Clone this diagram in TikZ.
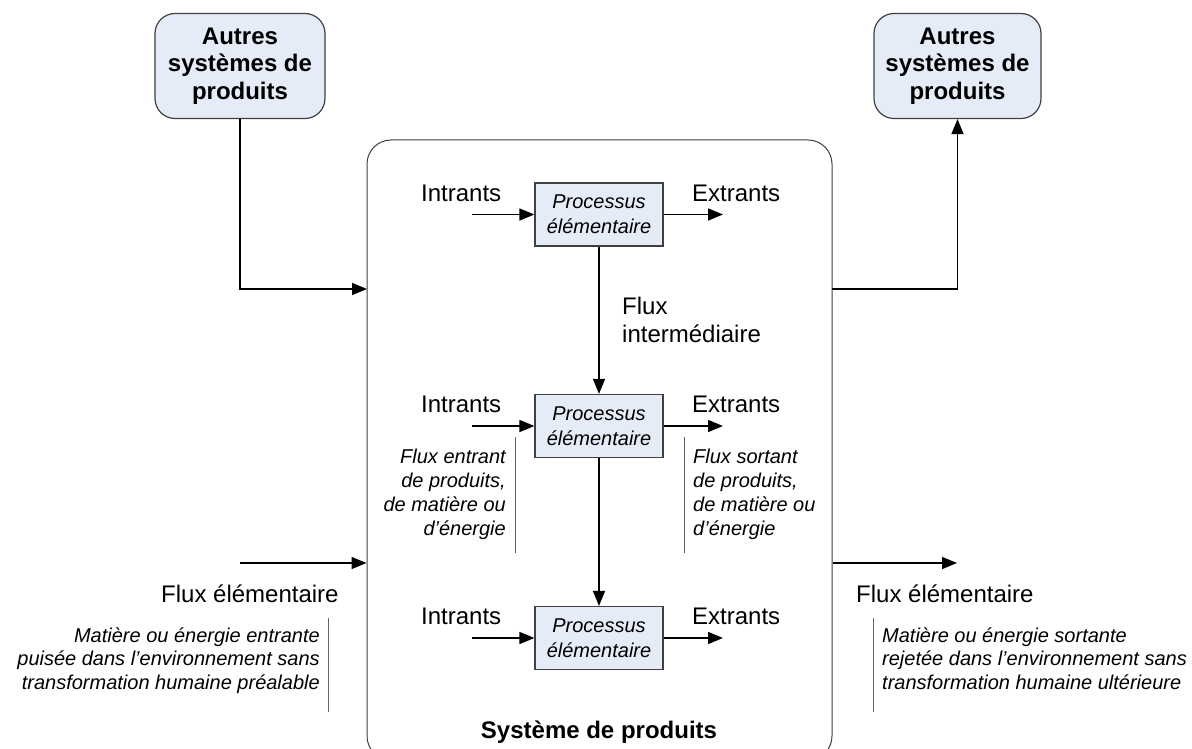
\documentclass[tikz,border=0pt]{standalone}
\usepackage{fontspec}
\setmainfont{Liberation Sans}
\usetikzlibrary{arrows.meta}
\definecolor{boxblue}{RGB}{230,236,247}
\definecolor{edgegray}{RGB}{64,64,64}
\definecolor{annotgray}{RGB}{100,100,100}
\tikzset{
  arr/.style={draw=black, line width=1.5pt, -{Triangle[length=15pt,width=12pt]}},
  autresbox/.style={draw=edgegray, fill=boxblue, line width=1.2pt, rounded corners=20pt,
    minimum width=170pt, minimum height=105pt, inner sep=0pt, align=center,
    font=\fontsize{24}{27.6}\selectfont\bfseries},
  procbox/.style={draw=edgegray, fill=boxblue, line width=1.2pt,
    minimum width=128pt, minimum height=63pt, inner sep=0pt, align=center,
    font=\fontsize{20}{25}\selectfont\itshape},
  sysbox/.style={draw=edgegray, line width=1pt, rounded corners=24pt,
    minimum width=465pt, minimum height=620pt, inner sep=0pt},
  lab/.style={inner sep=0pt, font=\fontsize{24}{27.6}\selectfont},
  note/.style={inner sep=0pt, font=\fontsize{20}{24}\selectfont\itshape},
  annot/.style={draw=annotgray, line width=1pt},
}
\begin{document}
\begin{tikzpicture}[x=1pt,y=-1pt]
\useasboundingbox (0,0) rectangle (1192,749);
\clip (0,0) rectangle (1192,749);
\fill[white] (0,0) rectangle (1192,749);

% system box
\node[sysbox] (sys) at (599.5,450) {};
\node[inner sep=0pt, anchor=base, font=\fontsize{24}{27.6}\selectfont\bfseries] (syslab) at (599,738) {Système de produits};

% other product systems
\node[autresbox] (autresL) at (240,66) {Autres\\systèmes de\\produits};
\node[autresbox, minimum width=167pt] (autresR) at (957.5,66) {Autres\\systèmes de\\produits};

% unit processes
\node[procbox] (p1) at (599,214.5) {Processus\\élémentaire};
\node[procbox] (p2) at (599,426) {Processus\\élémentaire};
\node[procbox] (p3) at (599,638) {Processus\\élémentaire};

% connectors between systems
\coordinate (sysin) at (367,289);
\coordinate (sysout) at (832,289);
\draw[arr] (autresL.south) |- (sysin);
\draw[arr] (sysout) -| (autresR.south);

% intermediate flows
\draw[arr] (p1.south) -- (p2.north);
\draw[arr] (p2.south) -- (p3.north);
\node[lab, anchor=base west, align=left] (fint) at (622,342) {Flux\\intermédiaire};

% inputs / outputs
\coordinate (in1) at (472,214.5);
\coordinate (in2) at (472,426);
\coordinate (in3) at (472,638);
\coordinate (out1) at (723,214.5);
\coordinate (out2) at (723,426);
\coordinate (out3) at (723,638);
\draw[arr] (in1) -- (p1.west);
\draw[arr] (in2) -- (p2.west);
\draw[arr] (in3) -- (p3.west);
\draw[arr] (p1.east) -- (out1);
\draw[arr] (p2.east) -- (out2);
\draw[arr] (p3.east) -- (out3);

\node[lab, anchor=base west] (inl1) at (421,201) {Intrants};
\node[lab, anchor=base west] (inl2) at (421,412) {Intrants};
\node[lab, anchor=base west] (inl3) at (421,624) {Intrants};
\node[lab, anchor=base west] (outl1) at (692,201) {Extrants};
\node[lab, anchor=base west] (outl2) at (692,412) {Extrants};
\node[lab, anchor=base west] (outl3) at (692,624) {Extrants};

% notes near process 2
\coordinate (nl1) at (515,437);
\coordinate (nl2) at (515,553);
\coordinate (nr1) at (684,437);
\coordinate (nr2) at (684,553);
\draw[annot] (nl1) -- (nl2);
\draw[annot] (nr1) -- (nr2);
\node[note, anchor=base east, align=right] (noteL) at (506,535) {Flux entrant\\de produits,\\de matière ou\\d’énergie};
\node[note, anchor=base west, align=left] (noteR) at (693,535) {Flux sortant\\de produits,\\de matière ou\\d’énergie};

% elementary flows
\coordinate (fl) at (240,563);
\coordinate (fr) at (957,563);
\draw[arr] (fl) -- (sys.west |- fl);
\draw[arr] (sys.east |- fr) -- (fr);
\node[lab, anchor=base west] (fel) at (161,602) {Flux élémentaire};
\node[lab, anchor=base west] (fer) at (856,602) {Flux élémentaire};

\coordinate (bl1) at (328,618);
\coordinate (bl2) at (328,712);
\coordinate (br1) at (873,618);
\coordinate (br2) at (873,712);
\draw[annot] (bl1) -- (bl2);
\draw[annot] (br1) -- (br2);
\node[note, anchor=base east, align=right, font=\fontsize{20}{23.5}\selectfont\itshape] (noteBL) at (320,689) {Matière ou énergie entrante\\puisée dans l’environnement sans\\transformation humaine préalable};
\node[note, anchor=base west, align=left, font=\fontsize{20}{23.5}\selectfont\itshape] (noteBR) at (882,689) {Matière ou énergie sortante\\rejetée dans l’environnement sans\\transformation humaine ultérieure};
\end{tikzpicture}
\end{document}
